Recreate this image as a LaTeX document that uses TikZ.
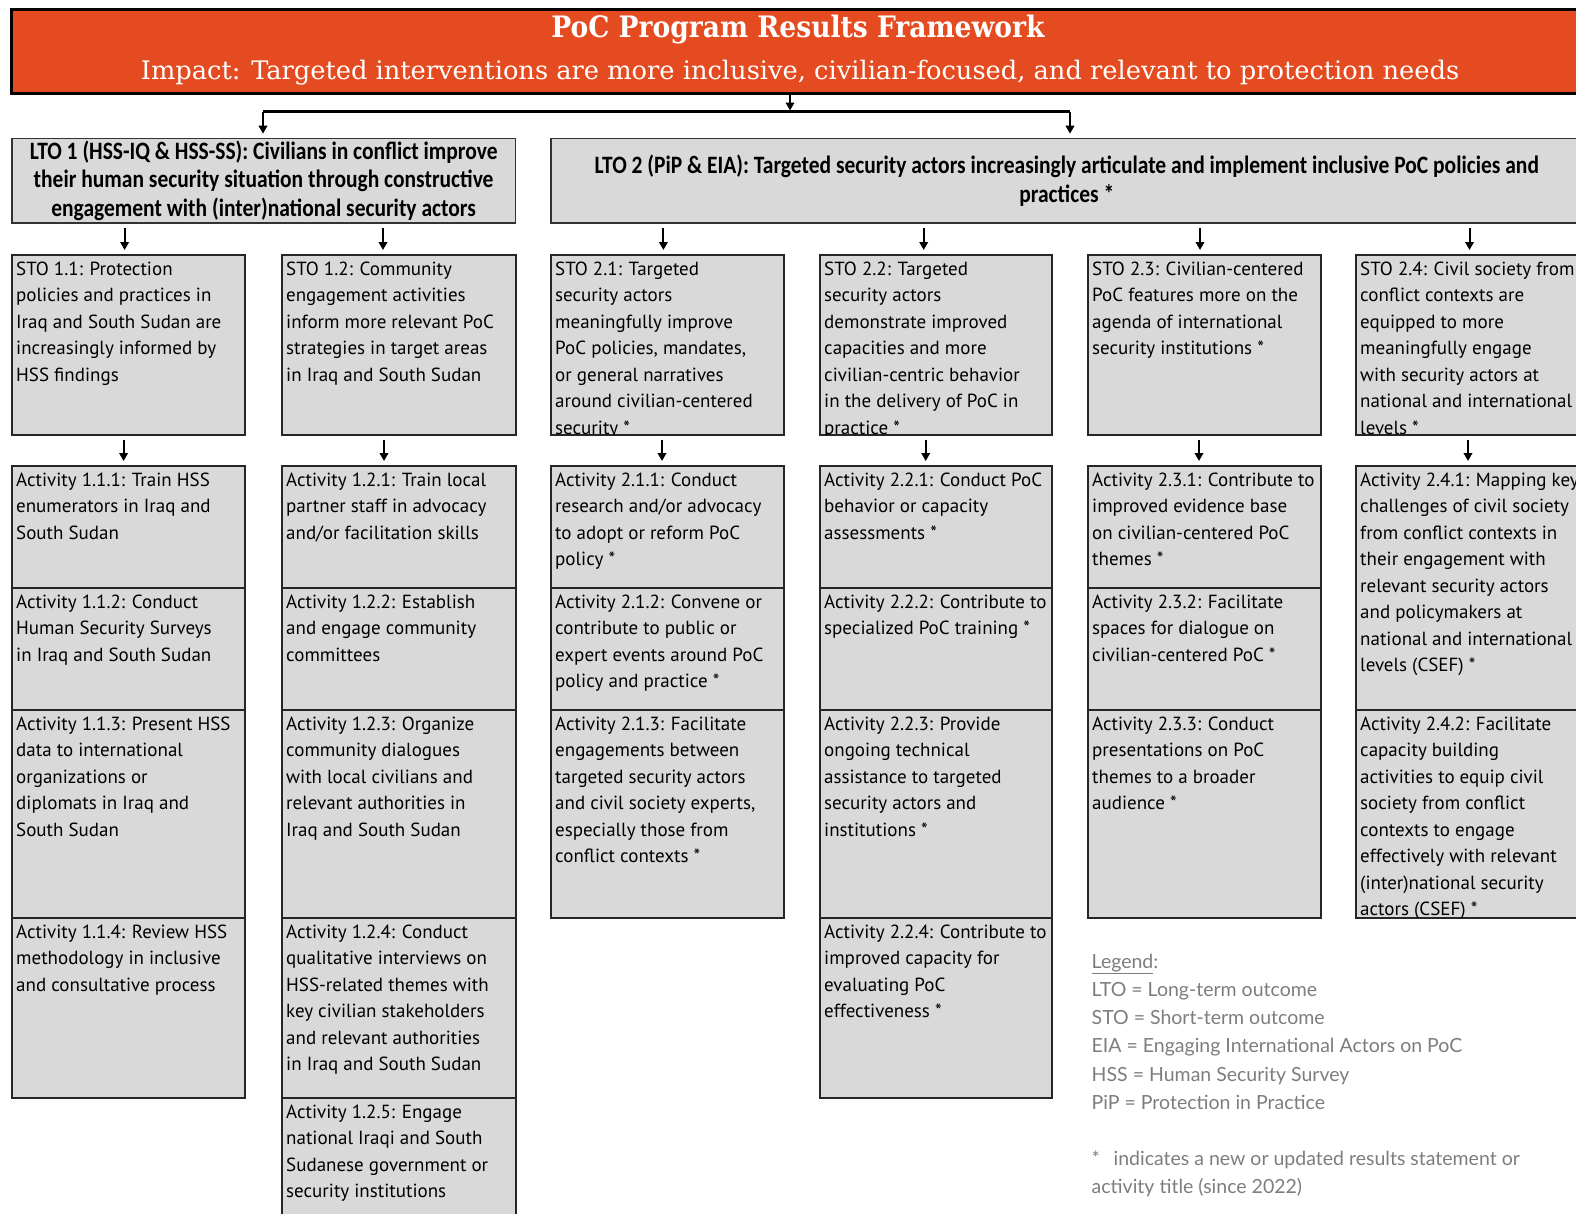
\documentclass[tikz,border=0pt]{standalone}
\usepackage{fontspec}
\usetikzlibrary{arrows.meta}
\setmainfont{PT Sans}
\newfontfamily\bodyfont{PT Sans}
\newfontfamily\headfont{DejaVu Serif Condensed}
\newfontfamily\impactfont{DejaVu Serif Condensed}[FakeStretch=1.12]
\newfontfamily\ltofont{Carlito}[FakeStretch=0.86]
\newfontfamily\legendfont{Lato}
\definecolor{headorange}{RGB}{229,75,32}
\definecolor{cellgray}{RGB}{217,217,217}
\definecolor{legendgray}{RGB}{128,124,124}

\tikzset{
  headbox/.style={draw=black, line width=3pt, fill=headorange, inner sep=0pt},
  ltobox/.style={draw=black!80, line width=1.6pt, fill=cellgray, inner sep=0pt, align=center,
    font={\ltofont\bfseries\fontsize{25}{28.2}\selectfont}},
  cellbox/.style={draw=black!85, line width=1.6pt, fill=cellgray, inner sep=0pt},
  celltext/.style={anchor=north west, inner xsep=5pt, inner ysep=0pt, align=left,
    font={\bodyfont\fontsize{19}{26.5}\selectfont}},
  arr/.style={line width=2pt, -{Triangle[length=8pt,width=8.5pt]}, shorten <=4pt, shorten >=4pt},
  bus/.style={line width=2.6pt},
  legendtext/.style={anchor=north west, inner sep=0pt, align=left, text=legendgray,
    font={\legendfont\fontsize{19.5}{28.2}\selectfont}}
}

% one outcome/activity box: name, left, top, right, bottom, text
\newcommand{\cell}[6]{%
  \pgfmathsetmacro{\cellw}{#4-#2}\pgfmathsetmacro{\cellh}{#5-#3}%
  \node[cellbox, minimum width=\cellw pt, minimum height=\cellh pt, anchor=north west] (#1) at (#2,#3) {};
  \begin{scope}
    \clip ([shift={(1pt,-1pt)}]#1.north west) rectangle ([shift={(-1pt,1pt)}]#1.south east);
    \node[celltext] (#1-t) at (#1.north west) {\rule{0pt}{21pt}#6};
  \end{scope}
}
% vertical arrow between two stacked boxes at a given x
\newcommand{\link}[3]{%
  \coordinate (lk) at (#3,0);
  \draw[arr] (#1.south -| lk) -- (#2.north -| lk);
}

\begin{document}
\begin{tikzpicture}[x=1pt,y=-1pt]
\useasboundingbox (0,0) rectangle (1576,1213);

% impact banner
\node[headbox, minimum width=1580pt, minimum height=83.5pt, anchor=north west] (head) at (10,8) {};
\node[anchor=base, text=white, font={\headfont\bfseries\fontsize{29.5}{32}\selectfont}] (title) at (798,37.5) {PoC Program Results Framework};
\node[anchor=base, text=white, font={\impactfont\fontsize{25.5}{28}\selectfont}] (impact) at (800,79) {Impact: Targeted interventions are more inclusive, civilian-focused, and relevant to protection needs};

% long-term outcomes
\node[ltobox, minimum width=503.6pt, minimum height=84.3pt, anchor=north west] (lto1) at (11,137.7)
  {LTO 1 (HSS-IQ \& HSS-SS): Civilians in conflict improve\\their human security situation through constructive\\engagement with (inter)national security actors};
\node[ltobox, minimum width=1032pt, minimum height=84.3pt, anchor=north west] (lto2) at (550,137.7)
  {LTO 2 (PiP \& EIA): Targeted security actors increasingly articulate and implement inclusive PoC policies and\\practices *};

% banner to long-term outcomes
\coordinate (busM) at (790,111.5);
\coordinate (busL) at (263,111.5);
\coordinate (busR) at (1070,111.5);
\draw[arr, shorten <=0pt, shorten >=1pt] (head.south -| busM) -- (busM);
\draw[bus] (busL) -- (busR);
\draw[arr, shorten <=0pt] (busL) -- (lto1.north -| busL);
\draw[arr, shorten <=0pt] (busR) -- (lto2.north -| busR);

% column 1.1
\cell{sto11}{11}{254}{244}{434}{STO 1.1: Protection\\policies and practices in\\Iraq and South Sudan are\\increasingly informed by\\HSS findings}
\cell{a111}{11}{465}{244}{587}{Activity 1.1.1: Train HSS\\enumerators in Iraq and\\South Sudan}
\cell{a112}{11}{587}{244}{709}{Activity 1.1.2: Conduct\\Human Security Surveys\\in Iraq and South Sudan}
\cell{a113}{11}{709}{244}{917}{Activity 1.1.3: Present HSS\\data to international\\organizations or\\diplomats in Iraq and\\South Sudan}
\cell{a114}{11}{917}{244}{1097}{Activity 1.1.4: Review HSS\\methodology in inclusive\\and consultative process}

% column 1.2
\cell{sto12}{281}{254}{515}{434}{STO 1.2: Community\\engagement activities\\inform more relevant PoC\\strategies in target areas\\in Iraq and South Sudan}
\cell{a121}{281}{465}{515}{587}{Activity 1.2.1: Train local\\partner staff in advocacy\\and/or facilitation skills}
\cell{a122}{281}{587}{515}{709}{Activity 1.2.2: Establish\\and engage community\\committees}
\cell{a123}{281}{709}{515}{917}{Activity 1.2.3: Organize\\community dialogues\\with local civilians and\\relevant authorities in\\Iraq and South Sudan}
\cell{a124}{281}{917}{515}{1097}{Activity 1.2.4: Conduct\\qualitative interviews on\\HSS-related themes with\\key civilian stakeholders\\and relevant authorities\\in Iraq and South Sudan}
\cell{a125}{281}{1097}{515}{1225}{Activity 1.2.5: Engage\\national Iraqi and South\\Sudanese government or\\security institutions}

% column 2.1
\cell{sto21}{550}{254}{783}{434}{STO 2.1: Targeted\\security actors\\meaningfully improve\\PoC policies, mandates,\\or general narratives\\around civilian-centered\\security *}
\cell{a211}{550}{465}{783}{587}{Activity 2.1.1: Conduct\\research and/or advocacy\\to adopt or reform PoC\\policy *}
\cell{a212}{550}{587}{783}{709}{Activity 2.1.2: Convene or\\contribute to public or\\expert events around PoC\\policy and practice *}
\cell{a213}{550}{709}{783}{917}{Activity 2.1.3: Facilitate\\engagements between\\targeted security actors\\and civil society experts,\\especially those from\\conflict contexts *}

% column 2.2
\cell{sto22}{819}{254}{1051}{434}{STO 2.2: Targeted\\security actors\\demonstrate improved\\capacities and more\\civilian-centric behavior\\in the delivery of PoC in\\practice *}
\cell{a221}{819}{465}{1051}{587}{Activity 2.2.1: Conduct PoC\\behavior or capacity\\assessments *}
\cell{a222}{819}{587}{1051}{709}{Activity 2.2.2: Contribute to\\specialized PoC training *}
\cell{a223}{819}{709}{1051}{917}{Activity 2.2.3: Provide\\ongoing technical\\assistance to targeted\\security actors and\\institutions *}
\cell{a224}{819}{917}{1051}{1097}{Activity 2.2.4: Contribute to\\improved capacity for\\evaluating PoC\\effectiveness *}

% column 2.3
\cell{sto23}{1087}{254}{1320}{434}{STO 2.3: Civilian-centered\\PoC features more on the\\agenda of international\\security institutions *}
\cell{a231}{1087}{465}{1320}{587}{Activity 2.3.1: Contribute to\\improved evidence base\\on civilian-centered PoC\\themes *}
\cell{a232}{1087}{587}{1320}{709}{Activity 2.3.2: Facilitate\\spaces for dialogue on\\civilian-centered PoC *}
\cell{a233}{1087}{709}{1320}{917}{Activity 2.3.3: Conduct\\presentations on PoC\\themes to a broader\\audience *}

% column 2.4
\cell{sto24}{1355}{254}{1588}{434}{STO 2.4: Civil society from\\conflict contexts are\\equipped to more\\meaningfully engage\\with security actors at\\national and international\\levels *}
\cell{a241}{1355}{465}{1588}{709}{Activity 2.4.1: Mapping key\\challenges of civil society\\from conflict contexts in\\their engagement with\\relevant security actors\\and policymakers at\\national and international\\levels (CSEF) *}
\cell{a242}{1355}{709}{1588}{917}{Activity 2.4.2: Facilitate\\capacity building\\activities to equip civil\\society from conflict\\contexts to engage\\effectively with relevant\\(inter)national security\\actors (CSEF) *}

% outcome arrows
\link{lto1}{sto11}{124.6}
\link{lto1}{sto12}{383}
\link{lto2}{sto21}{663.4}
\link{lto2}{sto22}{923.7}
\link{lto2}{sto23}{1200}
\link{lto2}{sto24}{1469.5}
% activity arrows
\link{sto11}{a111}{123.6}
\link{sto12}{a121}{384}
\link{sto21}{a211}{662}
\link{sto22}{a221}{925.7}
\link{sto23}{a231}{1199}
\link{sto24}{a241}{1468}

% legend
\node[legendtext] (legend) at (1091.5,947)
  {\rule{0pt}{21pt}\underline{Legend}:\\LTO = Long-term outcome\\STO = Short-term outcome\\EIA = Engaging International Actors on PoC\\HSS = Human Security Survey\\PiP = Protection in Practice\\[28.2pt]*\hspace{0.7em}indicates a new or updated results statement or\\activity title (since 2022)};
\end{tikzpicture}
\end{document}
